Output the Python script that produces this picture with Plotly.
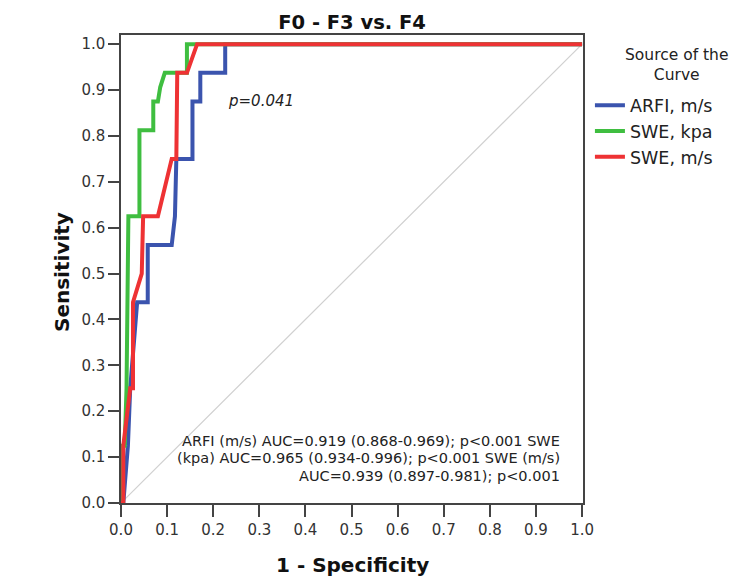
import plotly.graph_objects as go

# ROC curve data (1 - specificity, sensitivity)
arfi_x = [0, 0.005, 0.015, 0.02, 0.035, 0.058, 0.058, 0.11, 0.117, 0.12, 0.155, 0.155, 0.172, 0.172, 0.226, 0.226, 1.0]
arfi_y = [0, 0, 0.125, 0.25, 0.4375, 0.4375, 0.5625, 0.5625, 0.625, 0.75, 0.75, 0.875, 0.875, 0.9375, 0.9375, 1.0, 1.0]

swek_x = [0, 0, 0.008, 0.012, 0.016, 0.04, 0.04, 0.07, 0.07, 0.08, 0.085, 0.095, 0.143, 0.143, 1.0]
swek_y = [0, 0.125, 0.125, 0.25, 0.625, 0.625, 0.8125, 0.8125, 0.875, 0.875, 0.906, 0.9375, 0.9375, 1.0, 1.0]

swem_x = [0, 0.005, 0.005, 0.02, 0.026, 0.026, 0.045, 0.048, 0.08, 0.11, 0.12, 0.122, 0.143, 0.165, 1.0]
swem_y = [0, 0, 0.125, 0.25, 0.25, 0.4375, 0.5, 0.625, 0.625, 0.75, 0.75, 0.9375, 0.9375, 1.0, 1.0]

ref_x = [0, 1]
ref_y = [0, 1]

tick_vals = [0.0, 0.1, 0.2, 0.3, 0.4, 0.5, 0.6, 0.7, 0.8, 0.9, 1.0]
tick_text = ["0.0", "0.1", "0.2", "0.3", "0.4", "0.5", "0.6", "0.7", "0.8", "0.9", "1.0"]

auc_lines = [
    "ARFI (m/s) AUC=0.919 (0.868-0.969); p&lt;0.001 SWE",
    "(kpa) AUC=0.965 (0.934-0.996); p&lt;0.001 SWE (m/s)",
    "AUC=0.939 (0.897-0.981); p&lt;0.001",
]
auc_line_y = [0.135, 0.098, 0.059]

series = [
    ("ARFI, m/s", arfi_x, arfi_y, "#3b54ae"),
    ("SWE, kpa", swek_x, swek_y, "#3fbe40"),
    ("SWE, m/s", swem_x, swem_y, "#ee3234"),
]

FONT = "DejaVu Sans, Liberation Sans, Arial, sans-serif"

fig = go.Figure()
fig.add_trace(go.Scatter(x=ref_x, y=ref_y, mode="lines", showlegend=False,
                         line=dict(color="#d0d0d0", width=1.2), hoverinfo="skip"))
for name, xs, ys, col in series:
    fig.add_trace(go.Scatter(x=xs, y=ys, mode="lines", name=name,
                             line=dict(color=col, width=4)))

fig.update_layout(
    width=732, height=569,
    margin=dict(l=113, r=157, t=27, b=74),
    paper_bgcolor="white", plot_bgcolor="white",
    font=dict(family=FONT, size=15, color="#333333"),
    title=dict(text="<b>F0 - F3 vs. F4</b>", x=0.47, xanchor="center", y=0.9754, yanchor="middle",
               font=dict(family=FONT, size=19.5, color="#111111")),
    legend=dict(x=1.015, y=0.888, xanchor="left", yanchor="top",
                font=dict(size=17.5, color="#222222"), bgcolor="rgba(0,0,0,0)",
                itemwidth=30, tracegroupgap=0),
    showlegend=True,
)
fig.update_xaxes(range=[0, 1.002], tickvals=tick_vals, ticktext=tick_text,
                 showgrid=False, zeroline=False, showline=True, mirror=True,
                 linecolor="#444444", linewidth=1.5, ticks="outside", ticklen=12,
                 tickcolor="#444444", tickwidth=1.5, automargin=False)
fig.update_yaxes(range=[0, 1.02], tickvals=tick_vals, ticktext=tick_text,
                 showgrid=False, zeroline=False, showline=True, mirror=True,
                 linecolor="#444444", linewidth=1.5, ticks="outside", ticklen=11,
                 tickcolor="#444444", tickwidth=1.5, automargin=False)

# axis titles
fig.add_annotation(x=0.5, y=-0.1325, xref="paper", yref="paper", xanchor="center", yanchor="middle",
                   text="<b>1 - Specificity</b>", showarrow=False,
                   font=dict(size=20, color="#111111"))
fig.add_annotation(x=-0.1277, y=0.4936, xref="paper", yref="paper", xanchor="center", yanchor="middle",
                   text="<b>Sensitivity</b>", textangle=-90, showarrow=False,
                   font=dict(size=20, color="#111111"))

fig.add_annotation(x=0.303, y=0.876, xref="x", yref="y", text="<i>p=0.041</i>",
                   showarrow=False, font=dict(size=15, color="#222222"))
for txt, yy in zip(auc_lines, auc_line_y):
    fig.add_annotation(x=0.957, y=yy, xref="x", yref="y", xanchor="right", yanchor="middle",
                       showarrow=False, text=txt, font=dict(size=14.5, color="#222222"))

fig.add_annotation(x=1.203, y=0.981, xref="paper", yref="paper", xanchor="center", yanchor="top",
                   align="center", showarrow=False,
                   text="Source of the<br>Curve",
                   font=dict(size=15.5, color="#222222"))

fig.write_html("out.html")
